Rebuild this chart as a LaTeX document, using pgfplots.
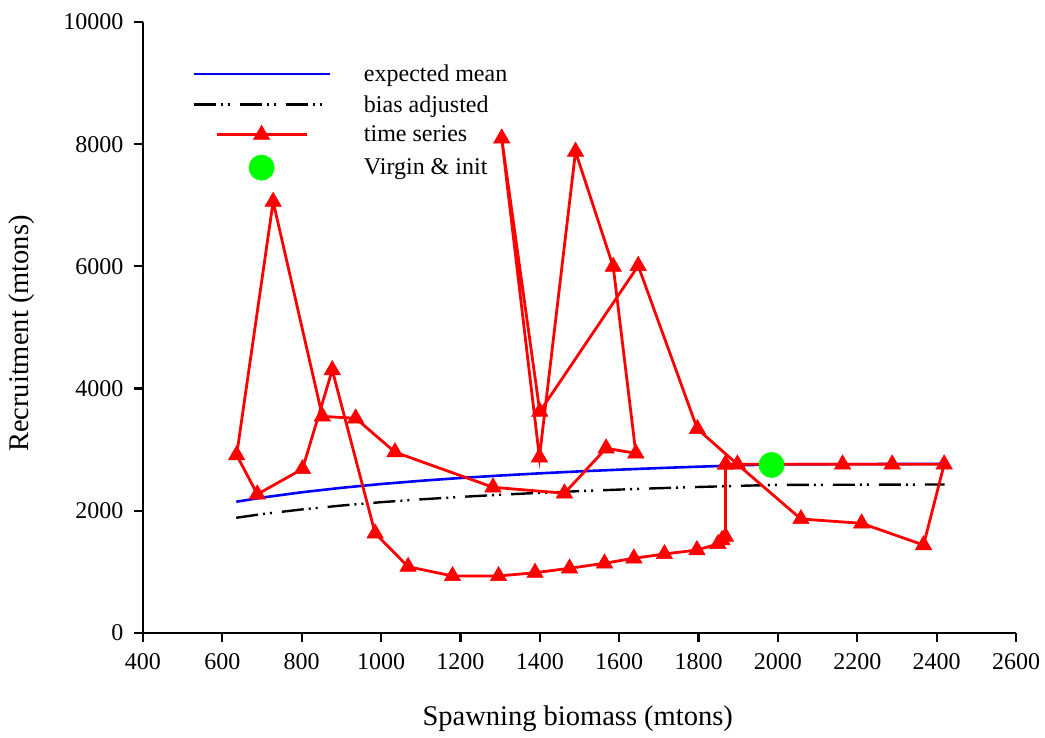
\documentclass[border=0pt]{standalone}
\usepackage{fontspec}
\setmainfont{Liberation Serif}
\usepackage{pgfplots}
\pgfplotsset{compat=1.18}
\pgfplotsset{
  legline/.style={legend image code/.code={\draw[##1] (-68pt,0pt) -- (68pt,0pt); \path (-68pt,0pt) (100pt,0pt);}},
  legtri/.style={legend image code/.code={\draw[##1, mark repeat=2, mark phase=2] plot coordinates {(-45pt,0pt) (0pt,0pt) (45pt,0pt)}; \path (-68pt,0pt) (100pt,0pt);}},
  legdot/.style={legend image code/.code={\draw[##1] plot coordinates {(0pt,0pt)}; \path (-68pt,0pt) (100pt,0pt);}},
}
\pgfplotstableread{
x y
635 2148
700 2216
800 2303
900 2376
1000 2438
1100 2491
1200 2537
1300 2577
1400 2613
1500 2645
1600 2673
1700 2699
1800 2722
1900 2743
1990 2760
2100 2762
2200 2764
2300 2766
2420 2768
}\meancurve
\pgfplotstableread{
x y
635 1886
700 1946
800 2022
900 2086
1000 2141
1100 2187
1200 2227
1300 2263
1400 2294
1500 2322
1600 2347
1700 2370
1800 2390
1900 2408
1990 2423
2100 2425
2200 2427
2300 2429
2420 2430
}\biascurve
\pgfplotstableread{
x y
1868 2761
2163 2761
2288 2761
2419 2761
2367 1440
2211 1795
2058 1866
1898 2761
1797 3340
1648 6010
1400 3622
1304 8096
1399 2876
1490 7878
1585 5995
1642 2941
1567 3023
1462 2287
1282 2385
1035 2960
936 3514
852 3545
728 7060
636 2913
688 2270
802 2685
877 4304
985 1632
1068 1085
1180 933
1296 933
1388 987
1475 1059
1563 1141
1637 1223
1714 1293
1796 1358
1849 1457
1859 1522
1868 1576
1868 2761
}\timeseries
\pgfplotstableread{
x y
1984 2750
}\virgin
\begin{document}
\begin{tikzpicture}[x=1pt,y=1pt]
\useasboundingbox (-143,-105) rectangle (902,633);
\begin{axis}[
  at={(0,0)}, anchor=south west,
  scale only axis, width=873pt, height=611pt,
  xmin=400, xmax=2600, ymin=0, ymax=10000,
  axis lines=left,
  axis line style={-, line width=2.4pt, black},
  xtick={400,600,...,2600},
  ytick={0,2000,...,10000},
  tick align=outside,
  major tick length=9pt,
  tick style={line width=2.2pt, black},
  scaled ticks=false,
  /pgf/number format/1000 sep={},
  /pgf/number format/assume math mode=true,
  tick label style={font=\fontsize{24}{28}\selectfont},
  xticklabel style={yshift=-8pt},
  yticklabel style={xshift=-7pt},
  xlabel={Spawning biomass (mtons)},
  ylabel={Recruitment (mtons)},
  xlabel style={font=\fontsize{28.5}{32}\selectfont, at={(axis description cs:0.498,-0.141)}, anchor=center},
  ylabel style={font=\fontsize{28.5}{32}\selectfont, at={(axis description cs:-0.1386,0.49)}, anchor=center},
  clip=false,
  legend style={draw=none, fill=none, inner sep=0pt,
    at={(axis description cs:0.0561,0.932)}, anchor=north west,
    font=\fontsize{24}{28}\selectfont, row sep=10.5pt,
    nodes={inner sep=1pt}},
  legend cell align=left,
]
\addplot[blue, line width=2.6pt, no marks, legline]
  table {\meancurve};
\addlegendentry{expected mean}
\addplot[black, line width=2.4pt, no marks, dash pattern=on 22pt off 5pt on 2pt off 5pt on 2pt off 10pt, legline]
  table {\biascurve};
\addlegendentry{bias adjusted}
\addplot[red, line width=2.8pt, mark=triangle*, mark size=9.5pt, mark options={solid, fill=red, draw=red, line width=0.5pt}, legtri]
  table {\timeseries};
\addlegendentry{time series}
\addplot[only marks, mark=*, mark size=12.7pt, mark options={fill=green, draw=green}, legdot]
  table {\virgin};
\addlegendentry{Virgin \& init}
\end{axis}
\end{tikzpicture}
\end{document}
